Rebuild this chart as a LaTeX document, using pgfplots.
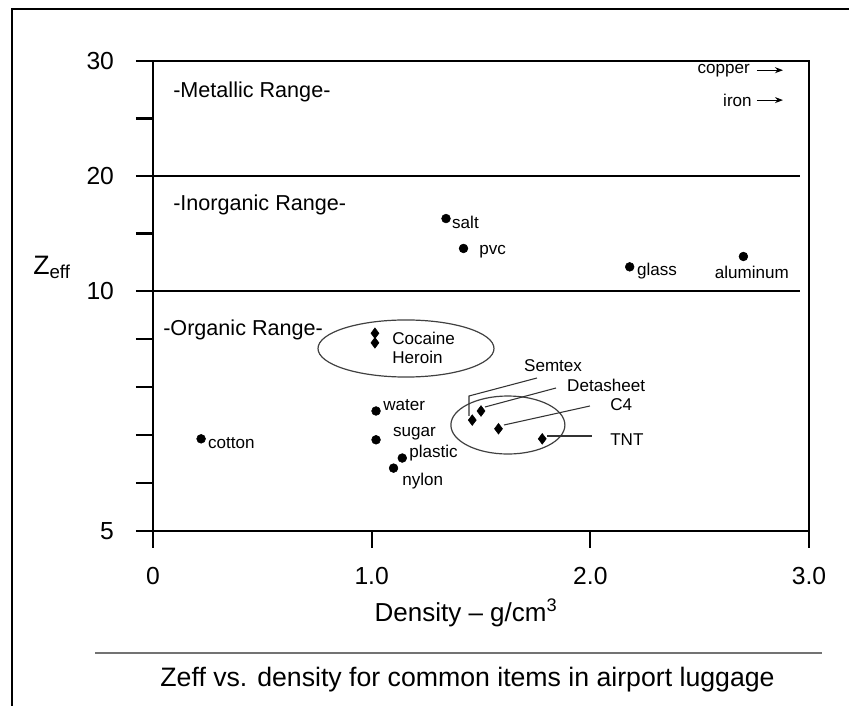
\documentclass[border=0pt]{standalone}
\usepackage{pgfplots}
\pgfplotsset{compat=1.18}
\usepackage{fontspec}
\setmainfont{Liberation Sans}
\usetikzlibrary{arrows.meta}

% Effective atomic number vs. density (g/cm^3)
% Inorganic/metal items: circles; drugs and explosives: diamonds
\pgfplotstableread{
x     z
0.22  6.92
1.02  7.50
1.02  6.90
1.14  6.52
1.10  6.31
1.34  16.3
1.42  13.7
2.18  12.1
2.70  13.0
}\circles
\pgfplotstableread{
x     z
1.015 9.12
1.015 8.92
1.46  7.31
1.50  7.50
1.58  7.13
1.78  6.92
}\diamonds

% layout unit: one pixel of the 849 x 706 page
\newcommand\px[1]{#1*0.75pt}

\begin{document}
\begin{tikzpicture}[
  lab/.style={font=\fontsize{12.8}{14.25}\selectfont, inner sep=0pt},
  rng/.style={font=\fontsize{16.2}{18}\selectfont, inner sep=0pt, anchor=west}]
\useasboundingbox (0,0) rectangle (\px{849},\px{706});
\draw[line width=1.5pt] (\px{12},0) -- (\px{12},\px{697}) -- (\px{849},\px{697});

\begin{axis}[
  at={(114.75pt,131.25pt)}, anchor=south west,
  scale only axis, width=492pt, height=352.5pt,
  xmin=0, xmax=3, ymin=5, ymax=30,
  % piecewise scale: 5..10 stretched, 10..30 compressed
  y coord trafo/.code={\pgfmathparse{#1<10 ? #1-5 : 5+(#1-10)*0.23958}},
  xtick={0,1,2,3}, xticklabels={0,1.0,2.0,3.0},
  ytick={5,6,7,8,9,10,15,20,25,30},
  yticklabels={5,,,,,10,,20,,30},
  xtick pos=bottom, ytick pos=left,
  /pgf/number format/assume math mode=true,
  tick align=outside, major tick length=12.75pt,
  tick style={line width=1.7pt, black},
  axis line style={line width=1.7pt},
  xticklabel style={font=\fontsize{18.5}{20}\selectfont, yshift=-11pt},
  yticklabel style={font=\fontsize{18.5}{20}\selectfont, xshift=-13pt},
  clip=false,
]
% range boundaries
\draw[line width=1.7pt] (axis cs:0,20) -- (axis cs:2.958,20);
\draw[line width=1.7pt] (axis cs:0,10) -- (axis cs:2.958,10);

\addplot[only marks, mark=*, mark size=3.3pt, black] table[x=x, y=z] {\circles};
\addplot[only marks, mark=diamond*, mark size=4pt, black] table[x=x, y=z] {\diamonds};

% range names
\node[rng] at (axis cs:0.0914,27.3) {-Metallic Range-};
\node[rng] at (axis cs:0.0914,17.48) {-Inorganic Range-};
\node[rng] at (axis cs:0.0457,9.19) {-Organic Range-};

% item names
\node[lab, anchor=west] at (axis cs:0.251,6.833) {cotton};
\node[lab, anchor=west] at (axis cs:1.052,7.625) {water};
\node[lab, anchor=west] at (axis cs:1.097,7.02) {sugar};
\node[lab, anchor=west] at (axis cs:1.171,6.625) {plastic};
\node[lab, anchor=west] at (axis cs:1.139,6.04) {nylon};
\node[lab, anchor=west] at (axis cs:1.367,16.0) {salt};
\node[lab, anchor=west] at (axis cs:1.491,13.39) {pvc};
\node[lab, anchor=west] at (axis cs:2.213,11.74) {glass};
\node[lab] at (axis cs:2.739,11.65) {aluminum};
\node[lab, anchor=west, align=left] at (axis cs:1.093,8.823) {Cocaine\\Heroin};
\node[lab, anchor=west] at (axis cs:1.696,8.4375) {Semtex};
\node[lab, anchor=west] at (axis cs:1.893,8.042) {Detasheet};
\node[lab, anchor=west] at (axis cs:2.090,7.625) {C4};
\node[lab, anchor=west] at (axis cs:2.090,6.896) {TNT};

% groupings
\draw[line width=0.9pt, black!75] (axis cs:1.157,8.802) ellipse [x radius=66pt, y radius=21.4pt];
\draw[line width=0.9pt, black!75] (axis cs:1.623,7.208) ellipse [x radius=42.75pt, y radius=21.75pt];

% leaders to explosive names
\draw[line width=0.8pt, black!80] (axis cs:1.445,7.396) -- (axis cs:1.445,7.8125) -- (axis cs:1.756,8.1875);
\draw[line width=0.8pt, black!80] (axis cs:1.518,7.583) -- (axis cs:1.843,7.979);
\draw[line width=0.8pt, black!80] (axis cs:1.605,7.208) -- (axis cs:1.998,7.604);
\draw[line width=0.8pt, black!80] (axis cs:1.802,6.979) -- (axis cs:2.007,6.979);

% off-scale metals
\node[lab, anchor=east] at (axis cs:2.730,29.2) {copper};
\node[lab, anchor=east] at (axis cs:2.739,26.6) {iron};
\draw[line width=0.8pt, -{Stealth[length=6pt,width=4.5pt]}] (axis cs:2.762,29.2) -- (axis cs:2.881,29.2);
\draw[line width=0.8pt, -{Stealth[length=6pt,width=4.5pt]}] (axis cs:2.762,26.6) -- (axis cs:2.881,26.6);
\end{axis}

\node[anchor=west, inner sep=0pt, font=\fontsize{20}{22}\selectfont] at (\px{33},\px{439}) {Z\textsubscript{eff}};
\node[inner sep=0pt, font=\fontsize{19.5}{22}\selectfont] at (\px{466},\px{93}) {Density -- g/cm\textsuperscript{3}};
\draw[line width=1.2pt, black!55] (\px{95},\px{53}) -- (\px{822},\px{53});
\node[inner sep=0pt, font=\fontsize{20}{22}\selectfont] at (\px{467.5},\px{26}) {Zeff vs. density for common items in airport luggage};
\end{tikzpicture}
\end{document}
